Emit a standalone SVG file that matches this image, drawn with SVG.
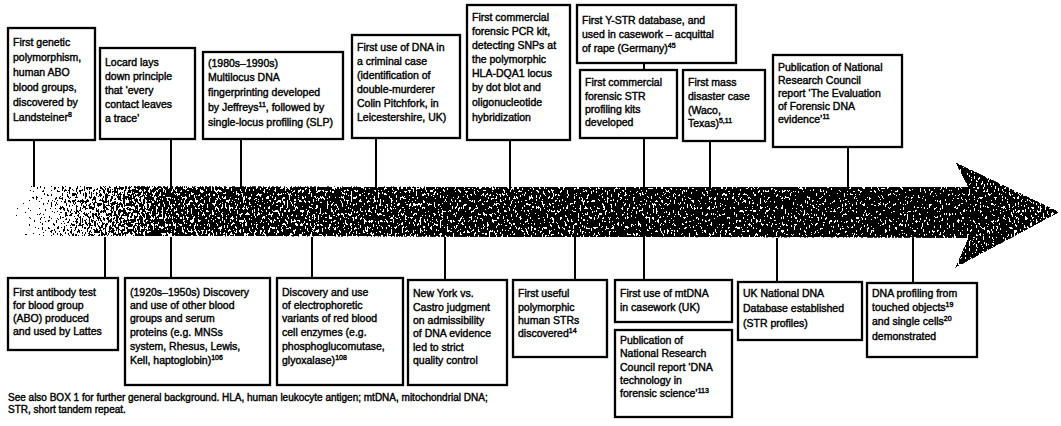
<svg xmlns="http://www.w3.org/2000/svg" width="1061" height="426" viewBox="0 0 1061 426">
<style>
.box rect{fill:#fff;stroke:#000;stroke-width:2.3}
.box text,.note{font-family:"Liberation Sans",Arial,sans-serif;font-size:10.5px;fill:#000;stroke:#000;stroke-width:0.4}
.note{font-size:10px}
.sup{font-size:7px}
#connectors line{stroke:#000;stroke-width:2}
</style>
<defs>
<linearGradient id="g" gradientUnits="userSpaceOnUse" x1="8" y1="0" x2="1060" y2="0">
<stop offset="0" stop-color="#000" stop-opacity="0.18"/>
<stop offset="0.06" stop-color="#000" stop-opacity="0.44"/>
<stop offset="0.16" stop-color="#000" stop-opacity="0.6"/>
<stop offset="0.6" stop-color="#000" stop-opacity="0.64"/>
<stop offset="0.9" stop-color="#000" stop-opacity="0.66"/>
<stop offset="1" stop-color="#000" stop-opacity="0.6"/>
</linearGradient>
<filter id="dither" filterUnits="userSpaceOnUse" x="0" y="150" width="1061" height="130" color-interpolation-filters="sRGB">
<feTurbulence type="fractalNoise" baseFrequency="0.55 0.3" numOctaves="2" seed="5" result="noise"/>
<feColorMatrix in="noise" type="matrix" values="0 0 0 0 0  0 0 0 0 0  0 0 0 0 0  1 0 0 0 0" result="nA"/>
<feComposite in="SourceGraphic" in2="nA" operator="arithmetic" k1="0" k2="1" k3="-1" k4="0.5" result="sum"/>
<feComponentTransfer in="sum">
<feFuncR type="linear" slope="0" intercept="0"/>
<feFuncG type="linear" slope="0" intercept="0"/>
<feFuncB type="linear" slope="0" intercept="0"/>
<feFuncA type="discrete" tableValues="0 1"/>
</feComponentTransfer>
</filter>
<clipPath id="arrowClip">
<path d="M8,186 L968,187 L955,162 L1060,212 L955,268 L968,238 L8,236 Z"/>
</clipPath>
</defs>
<rect width="1061" height="426" fill="#fff"/>

<g id="timeline-arrow" clip-path="url(#arrowClip)">
<path d="M8,186 L968,187 L955,162 L1060,212 L955,268 L968,238 L8,236 Z" fill="url(#g)" filter="url(#dither)"/>
</g>

<g id="connectors">
<line x1="34" y1="140" x2="34" y2="187"/>
<line x1="171" y1="139" x2="171" y2="187"/>
<line x1="241" y1="139" x2="241" y2="187"/>
<line x1="376" y1="138" x2="376" y2="187"/>
<line x1="510" y1="140" x2="510" y2="187"/>
<line x1="644" y1="63" x2="644" y2="70"/>
<line x1="644" y1="138" x2="644" y2="187"/>
<line x1="710" y1="141" x2="710" y2="187"/>
<line x1="848" y1="147" x2="848" y2="187"/>
<line x1="105" y1="237" x2="105" y2="278"/>
<line x1="171" y1="237" x2="171" y2="278"/>
<line x1="312" y1="237" x2="312" y2="278"/>
<line x1="445" y1="237" x2="445" y2="280"/>
<line x1="575" y1="237" x2="575" y2="280"/>
<line x1="644" y1="237" x2="644" y2="280"/>
<line x1="777" y1="238" x2="777" y2="282"/>
<line x1="913" y1="238" x2="913" y2="283"/>
</g>

<g id="t1" class="box"><rect x="8" y="28" width="87" height="112"/>
<text x="13" y="46">First genetic</text><text x="13" y="61">polymorphism,</text><text x="13" y="76">human ABO</text><text x="13" y="91">blood groups,</text><text x="13" y="106">discovered by</text><text x="13" y="121">Landsteiner<tspan class="sup" dy="-4">8</tspan></text></g>

<g id="t2" class="box"><rect x="100" y="48" width="95" height="91"/>
<text x="105" y="66">Locard lays</text><text x="105" y="80">down principle</text><text x="105" y="94">that ‘every</text><text x="105" y="108">contact leaves</text><text x="105" y="122">a trace’</text></g>

<g id="t3" class="box"><rect x="203" y="52" width="140" height="87"/>
<text x="208" y="67">(1980s–1990s)</text><text x="208" y="81">Multilocus DNA</text><text x="208" y="96">fingerprinting developed</text><text x="208" y="111">by Jeffreys<tspan class="sup" dy="-4">11</tspan><tspan dy="4">, followed by</tspan></text><text x="208" y="126">single-locus profiling (SLP)</text></g>

<g id="t4" class="box"><rect x="352" y="35" width="108" height="103"/>
<text x="357" y="51">First use of DNA in</text><text x="357" y="65">a criminal case</text><text x="357" y="79">(identification of</text><text x="357" y="93">double-murderer</text><text x="357" y="107">Colin Pitchfork, in</text><text x="357" y="121">Leicestershire, UK)</text></g>

<g id="t5" class="box"><rect x="467" y="5" width="103" height="135"/>
<text x="472" y="21">First commercial</text><text x="472" y="35">forensic PCR kit,</text><text x="472" y="49">detecting SNPs at</text><text x="472" y="63">the polymorphic</text><text x="472" y="77">HLA-DQA1 locus</text><text x="472" y="91">by dot blot and</text><text x="472" y="106">oligonucleotide</text><text x="472" y="121">hybridization</text></g>

<g id="t6" class="box"><rect x="577" y="5" width="159" height="58"/>
<text x="582" y="24">First Y-STR database, and</text><text x="582" y="38">used in casework – acquittal</text><text x="582" y="52">of rape (Germany)<tspan class="sup" dy="-4">45</tspan></text></g>

<g id="t7" class="box"><rect x="580" y="70" width="97" height="68"/>
<text x="585" y="86">First commercial</text><text x="585" y="100">forensic STR</text><text x="585" y="113">profiling kits</text><text x="585" y="126">developed</text></g>

<g id="t8" class="box"><rect x="683" y="70" width="82" height="71"/>
<text x="688" y="86">First mass</text><text x="688" y="100">disaster case</text><text x="688" y="114">(Waco,</text><text x="688" y="127">Texas)<tspan class="sup" dy="-4">5,11</tspan></text></g>

<g id="t9" class="box"><rect x="773" y="55" width="129" height="92"/>
<text x="778" y="71">Publication of National</text><text x="778" y="84">Research Council</text><text x="778" y="97">report ‘The Evaluation</text><text x="778" y="110">of Forensic DNA</text><text x="778" y="123">evidence’<tspan class="sup" dy="-4">11</tspan></text></g>

<g id="b1" class="box"><rect x="8" y="278" width="110" height="72"/>
<text x="13" y="296">First antibody test</text><text x="13" y="309">for blood group</text><text x="13" y="322">(ABO) produced</text><text x="13" y="335">and used by Lattes</text></g>

<g id="b2" class="box"><rect x="125" y="278" width="145" height="107"/>
<text x="130" y="296">(1920s–1950s) Discovery</text><text x="130" y="309">and use of other blood</text><text x="130" y="322">groups and serum</text><text x="130" y="336">proteins (e.g. MNSs</text><text x="130" y="350">system, Rhesus, Lewis,</text><text x="130" y="364">Kell, haptoglobin)<tspan class="sup" dy="-4">106</tspan></text></g>

<g id="b3" class="box"><rect x="277" y="278" width="126" height="107"/>
<text x="282" y="296">Discovery and use</text><text x="282" y="309">of electrophoretic</text><text x="282" y="322">variants of red blood</text><text x="282" y="336">cell enzymes (e.g.</text><text x="282" y="350">phosphoglucomutase,</text><text x="282" y="364">glyoxalase)<tspan class="sup" dy="-4">108</tspan></text></g>

<g id="b4" class="box"><rect x="408" y="280" width="99" height="105"/>
<text x="413" y="297">New York vs.</text><text x="413" y="311">Castro judgment</text><text x="413" y="324">on admissibility</text><text x="413" y="337">of DNA evidence</text><text x="413" y="351">led to strict</text><text x="413" y="364">quality control</text></g>

<g id="b5" class="box"><rect x="513" y="280" width="94" height="77"/>
<text x="518" y="297">First useful</text><text x="518" y="311">polymorphic</text><text x="518" y="324">human STRs</text><text x="518" y="337">discovered<tspan class="sup" dy="-4">14</tspan></text></g>

<g id="b6" class="box"><rect x="615" y="280" width="117" height="42"/>
<text x="620" y="297">First use of mtDNA</text><text x="620" y="311">in casework (UK)</text></g>

<g id="b7" class="box"><rect x="615" y="330" width="117" height="87"/>
<text x="620" y="344">Publication of</text><text x="620" y="357">National Research</text><text x="620" y="371">Council report ‘DNA</text><text x="620" y="384">technology in</text><text x="620" y="397">forensic science’<tspan class="sup" dy="-4">113</tspan></text></g>

<g id="b8" class="box"><rect x="738" y="282" width="124" height="58"/>
<text x="743" y="297">UK National DNA</text><text x="743" y="312">Database established</text><text x="743" y="327">(STR profiles)</text></g>

<g id="b9" class="box"><rect x="867" y="283" width="110" height="74"/>
<text x="872" y="297">DNA profiling from</text><text x="872" y="311">touched objects<tspan class="sup" dy="-4">19</tspan></text><text x="872" y="325">and single cells<tspan class="sup" dy="-4">20</tspan></text><text x="872" y="340">demonstrated</text></g>

<g id="footnote">
<text class="note" x="8" y="401">See also BOX 1 for further general background. HLA, human leukocyte antigen; mtDNA, mitochondrial DNA;</text>
<text class="note" x="8" y="413">STR, short tandem repeat.</text>
</g>
</svg>
